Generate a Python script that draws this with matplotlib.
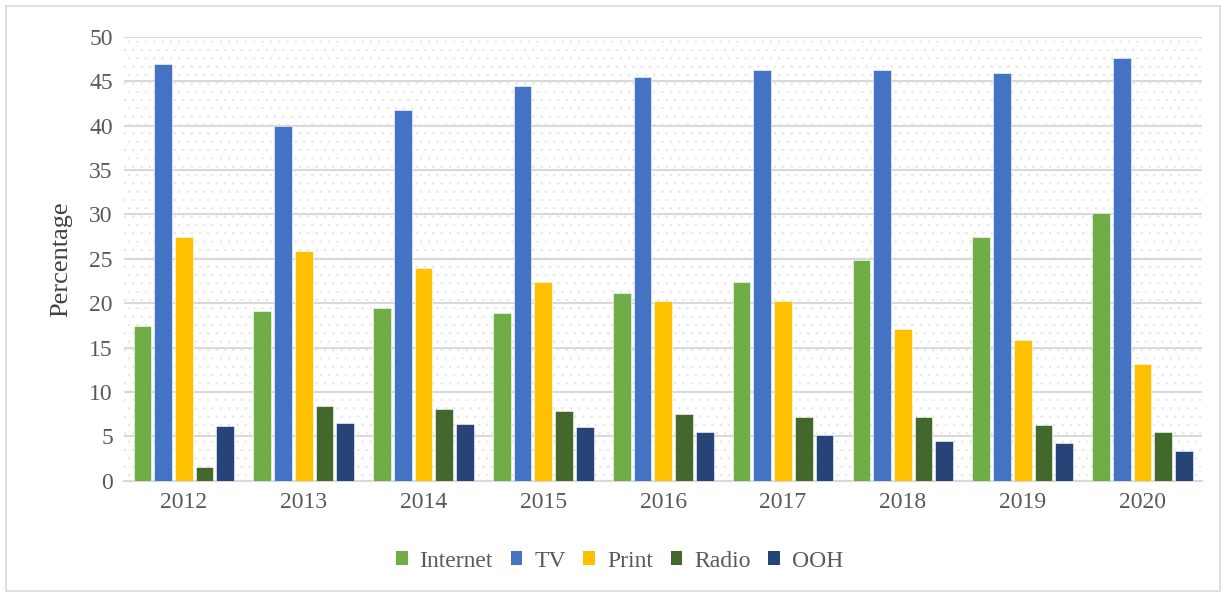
import matplotlib
matplotlib.use("Agg")
import matplotlib.pyplot as plt
from matplotlib.patches import Rectangle, Patch
import numpy as np

plt.rcParams['font.family'] = ['Liberation Serif', 'DejaVu Serif']
plt.rcParams['hatch.linewidth'] = 0.4

years = ['2012', '2013', '2014', '2015', '2016', '2017', '2018', '2019', '2020']
internet = [17.4, 19.1, 19.5, 18.9, 21.1, 22.4, 24.9, 27.5, 30.2]
tv = [47.0, 40.0, 41.8, 44.5, 45.5, 46.3, 46.3, 45.9, 47.6]
print_ = [27.5, 25.9, 24.0, 22.4, 20.3, 20.3, 17.1, 15.8, 13.1]
radio = [1.6, 8.4, 8.1, 7.9, 7.5, 7.2, 7.2, 6.3, 5.5]
ooh = [6.2, 6.5, 6.4, 6.1, 5.5, 5.1, 4.5, 4.3, 3.3]

series = [('Internet', internet, '#70ad47'),
          ('TV', tv, '#4472c4'),
          ('Print', print_, '#ffc000'),
          ('Radio', radio, '#43682b'),
          ('OOH', ooh, '#264478')]

fig = plt.figure(figsize=(12.27, 5.95), dpi=100)
ax = fig.add_axes([0.101, 0.192, 0.879, 0.746])

# dotted plot-area background
ax.add_patch(Rectangle((0, 0), 1, 1, transform=ax.transAxes, facecolor='white',
                       edgecolor='#e3e3e3', hatch='..', linewidth=0, zorder=0))

x = np.arange(len(years))
step = 0.173
width = 0.148
for i, (name, vals, col) in enumerate(series):
    ax.bar(x + (i - 2) * step, vals, width, color=col, label=name, zorder=3,
           edgecolor='white', linewidth=0.4)

ax.set_xlim(-0.5, len(years) - 0.5)
ax.set_ylim(0, 50)
ax.set_yticks(range(0, 51, 5))
ax.set_xticks(x)
ax.set_xticklabels(years)
ax.yaxis.grid(True, color='#d9d9d9', linewidth=1.5, zorder=1)
ax.set_axisbelow(True)
for s in ['top', 'right', 'left']:
    ax.spines[s].set_visible(False)
ax.spines['bottom'].set_color('#d9d9d9')
ax.spines['bottom'].set_linewidth(1.5)
ax.tick_params(axis='both', length=0, labelsize=17, colors='#595959', pad=8)
ax.set_ylabel('Percentage', fontsize=19, color='#404040', labelpad=12)

handles = [Patch(facecolor=c, label=n) for n, _, c in series]
fig.legend(handles=handles, loc='center', bbox_to_anchor=(0.505, 0.057), ncol=5,
           frameon=False, fontsize=17, handlelength=0.5, handleheight=0.5,
           handletextpad=0.5, columnspacing=0.75, labelcolor='#595959')

fig.add_artist(Rectangle((6 / 1227, 4 / 595), 1214 / 1227, 585 / 595,
                         transform=fig.transFigure, fill=False,
                         edgecolor='#d9d9d9', linewidth=1.2))

fig.savefig('out.png', dpi=100)
